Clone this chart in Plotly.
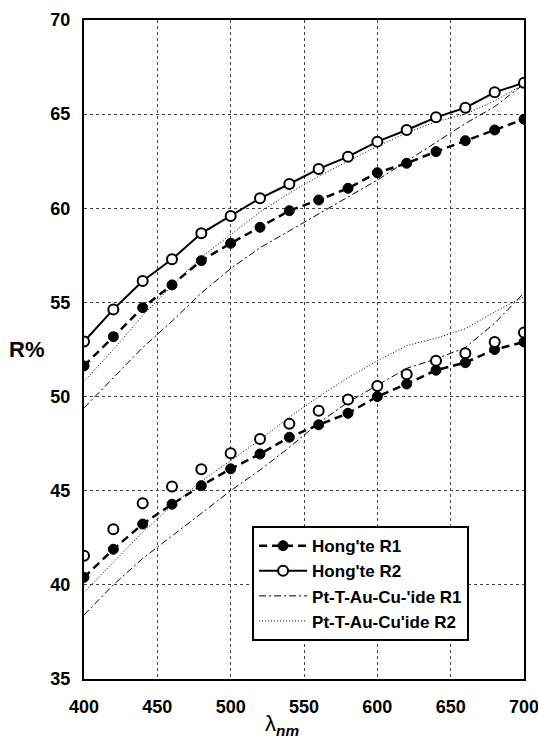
import plotly.graph_objects as go

wavelength = [400, 420, 440, 460, 480, 500, 520, 540, 560, 580, 600, 620, 640, 660, 680, 700]

# Upper group
hong_r1_up = [51.63, 53.18, 54.72, 55.93, 57.22, 58.14, 58.99, 59.87, 60.44, 61.06, 61.89, 62.39, 63.01, 63.59, 64.16, 64.73]
hong_r2_up = [52.92, 54.63, 56.14, 57.29, 58.67, 59.59, 60.53, 61.29, 62.09, 62.74, 63.54, 64.16, 64.83, 65.34, 66.16, 66.67]
pt_r1_up = [49.4, 51.0, 52.6, 54.0, 55.5, 56.8, 57.9, 58.8, 59.7, 60.6, 61.5, 62.5, 63.5, 64.5, 65.4, 66.6]
pt_r2_up = [50.8, 52.5, 54.3, 55.9, 57.4, 58.6, 59.8, 60.8, 61.7, 62.5, 63.3, 64.0, 64.6, 65.0, 65.7, 66.6]

# Lower group
hong_r1_lo = [40.4, 41.89, 43.23, 44.28, 45.27, 46.16, 46.95, 47.84, 48.5, 49.11, 50.0, 50.67, 51.4, 51.8, 52.5, 52.9]
hong_r2_lo = [41.55, 42.95, 44.33, 45.22, 46.14, 46.99, 47.75, 48.55, 49.25, 49.85, 50.56, 51.18, 51.9, 52.3, 52.9, 53.4]
pt_r1_lo = [38.4, 40.0, 41.4, 42.6, 43.8, 45.0, 46.1, 47.3, 48.6, 49.7, 50.6, 51.5, 52.0, 52.6, 53.9, 55.5]
pt_r2_lo = [39.6, 41.2, 42.8, 44.2, 45.5, 46.6, 47.7, 48.9, 50.0, 51.0, 51.9, 52.7, 53.1, 53.6, 54.5, 55.3]

names = ["Hong'te R1", "Hong'te R2", "Pt-T-Au-Cu-'ide R1", "Pt-T-Au-Cu'ide R2"]
x_ticks = [400, 450, 500, 550, 600, 650, 700]
y_ticks = [35, 40, 45, 50, 55, 60, 65, 70]

FONT = "Liberation Sans, Arial, Helvetica, sans-serif"

fig = go.Figure()

pt_r1_line = dict(color="black", width=1, dash="7px,3px,2px,3px")
pt_r2_line = dict(color="black", width=1, dash="1px,2px")

# Pt lines first (behind)
fig.add_trace(go.Scatter(x=wavelength, y=pt_r1_up, mode="lines", line=pt_r1_line,
                         name=names[2], legendgroup="c", legendrank=3))
fig.add_trace(go.Scatter(x=wavelength, y=pt_r1_lo, mode="lines", line=pt_r1_line,
                         name=names[2], legendgroup="c", showlegend=False))
fig.add_trace(go.Scatter(x=wavelength, y=pt_r2_up, mode="lines", line=pt_r2_line,
                         name=names[3], legendgroup="d", legendrank=4))
fig.add_trace(go.Scatter(x=wavelength, y=pt_r2_lo, mode="lines", line=pt_r2_line,
                         name=names[3], legendgroup="d", showlegend=False))

r1_marker = dict(symbol="circle", size=10, color="black", line=dict(color="black", width=1))
r2_marker = dict(symbol="circle", size=10, color="white", line=dict(color="black", width=2))
r1_line = dict(color="black", width=2.5, dash="8px,5px")

fig.add_trace(go.Scatter(x=wavelength, y=hong_r1_up, mode="lines+markers", line=r1_line,
                         marker=r1_marker, name=names[0], legendgroup="a", legendrank=1))
fig.add_trace(go.Scatter(x=wavelength, y=hong_r1_lo, mode="lines+markers", line=r1_line,
                         marker=r1_marker, name=names[0], legendgroup="a", showlegend=False))
fig.add_trace(go.Scatter(x=wavelength, y=hong_r2_up, mode="lines+markers",
                         line=dict(color="black", width=2), marker=r2_marker,
                         name=names[1], legendgroup="b", legendrank=2))
fig.add_trace(go.Scatter(x=wavelength, y=hong_r2_lo, mode="markers", marker=r2_marker,
                         name=names[1], legendgroup="b", showlegend=False))

axis_common = dict(
    showgrid=True, gridcolor="#444", griddash="dot", gridwidth=1,
    showline=True, linecolor="black", linewidth=2, mirror=True,
    zeroline=False, ticks="", automargin=False,
    tickfont=dict(family=FONT, size=18, color="black", weight="bold"),
)

fig.update_xaxes(range=[400, 700], tickvals=x_ticks, ticklabelstandoff=10,
                 ticklabeloverflow="allow", **axis_common)
fig.update_yaxes(range=[35, 70], tickvals=y_ticks, ticklabelstandoff=8, **axis_common)

fig.update_layout(
    width=538, height=748,
    margin=dict(l=84, r=14, t=20, b=69, autoexpand=False),
    paper_bgcolor="white", plot_bgcolor="white",
    showlegend=True,
    legend=dict(
        x=0.382, y=0.232, xanchor="left", yanchor="top",
        bgcolor="white", bordercolor="black", borderwidth=2,
        font=dict(family=FONT, size=17, color="black", weight="bold"),
        tracegroupgap=0, traceorder="normal", itemwidth=48,
    ),
    annotations=[
        dict(text="R%", xref="paper", yref="paper", x=-0.13, y=0.5, showarrow=False,
             xanchor="center", yanchor="middle",
             font=dict(family=FONT, size=22, color="black", weight="bold")),
        dict(text="λ<sub><i><b>nm</b></i></sub>", xref="paper", yref="paper",
             x=0.45, y=-0.045, showarrow=False, xanchor="center", yanchor="top",
             font=dict(family=FONT, size=22, color="black")),
    ],
)

fig.write_html("out.html")
